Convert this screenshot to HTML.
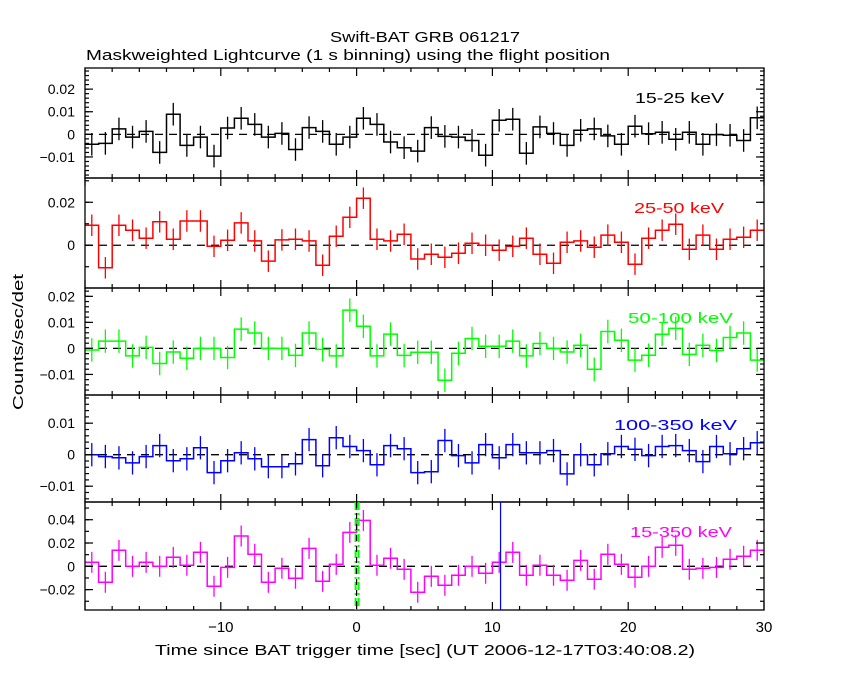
<!DOCTYPE html>
<html><head><meta charset="utf-8">
<style>
html,body{margin:0;padding:0;background:#fff;}
svg{display:block;font-family:"Liberation Sans",sans-serif;}
</style></head>
<body>
<svg id="chart" width="850" height="680" viewBox="0 0 850 680" xmlns="http://www.w3.org/2000/svg">
<text x="330" y="42" font-size="15" textLength="190" lengthAdjust="spacingAndGlyphs">Swift-BAT GRB 061217</text>
<text x="86" y="60" font-size="15" textLength="524" lengthAdjust="spacingAndGlyphs">Maskweighted Lightcurve (1 s binning) using the flight position</text>
<text transform="translate(23,342) rotate(-90)" text-anchor="middle" font-size="15" textLength="136" lengthAdjust="spacingAndGlyphs">Counts/sec/det</text>
<text x="155" y="655" font-size="15" textLength="540" lengthAdjust="spacingAndGlyphs">Time since BAT trigger time [sec] (UT 2006-12-17T03:40:08.2)</text>
</svg>
<script>
const binStarts = [];
for (let i = 0; i < 50; i++) binStarts.push(-20 + i);
const xTickLabels = [-10, 0, 10, 20, 30];
const bandLabels = ["15-25 keV", "25-50 keV", "50-100 keV", "100-350 keV", "15-350 keV"];
const bandColors = ["#000000", "#ff0000", "#00ff00", "#0000ff", "#ff00ff"];
const rate15_25 = [-0.0044,-0.004,0.0024,-0.0012,0.0013,-0.008,0.0089,-0.0049,-0.0012,-0.0096,0.0028,0.0071,0.0044,-0.0012,0.0004,-0.0067,0.003,0.0013,-0.0044,-0.0012,0.0071,0.0044,-0.0034,-0.0059,-0.0074,0.003,-0.0009,-0.0012,-0.0027,-0.0092,0.0062,0.0067,-0.0084,0.0033,0.0004,-0.0049,0.0018,0.0024,-0.0007,-0.0044,0.0036,0.0003,0.0009,-0.0022,0.0009,-0.0044,-0.0001,-0.0004,-0.0027,0.0073];
const rate25_50 = [0.0093,-0.0105,0.0093,0.007,0.0033,0.0109,0.0028,0.0113,0.0113,-0.0005,0.0023,0.0104,0.002,-0.0074,0.0025,0.0028,0.002,-0.0093,0.0042,0.013,0.0219,0.0028,0.002,0.0051,-0.0064,-0.0042,-0.0056,-0.0037,0.0009,0,-0.0023,-0.0005,0.0033,-0.0042,-0.0084,0.0014,0.002,-0.0009,0.0047,0.0014,-0.0088,0.0033,0.007,0.0098,-0.0019,0.0047,-0.0019,0.0028,0.0037,0.007];
const rate50_100 = [-0.0006,0.0028,0.0028,-0.0029,0.0004,-0.0058,-0.0014,-0.0038,0,0,-0.0035,0.0074,0.0059,0,0,-0.0027,0.0059,-0.0004,-0.0029,0.0147,0.0085,-0.0029,0.0055,-0.0027,-0.0015,-0.0015,-0.0122,-0.0019,0.0038,0.0008,0.0008,0.0028,-0.0029,0.0019,0,-0.0014,0.0012,-0.008,0.0065,0.0031,-0.0045,-0.0026,0.0054,0.0077,-0.0023,0.0012,-0.0008,0.0042,0.0059,-0.0045];
const rate100_350 = [0,-0.0006,-0.001,-0.0026,-0.0006,0.0029,-0.0019,-0.0013,0.0022,-0.0057,-0.0019,0.0006,-0.0013,-0.0038,-0.0038,-0.0029,0.0048,-0.0035,0.0054,0.0026,0.0013,-0.0032,0.0029,0.0019,-0.0057,-0.0054,0.0045,-0.0003,-0.0026,0.0032,-0.001,0.0032,0.0006,0.0006,0.0013,-0.0061,0,-0.0032,0.0003,0.0026,0.0017,-0.0003,0.0026,0.0029,0.0013,-0.0022,0.0026,0.0003,0.0019,0.0038];
const rate15_350 = [0.0034,-0.0137,0.0137,0,0.0034,0,0.0077,0.0009,0.012,-0.0171,-0.0009,0.026,0.0103,-0.0137,-0.0017,-0.0103,0.0154,-0.0129,0.0017,0.0291,0.0394,0.0009,0.0069,-0.0026,-0.0223,-0.0086,-0.0163,-0.0077,0,-0.006,0.0034,0.012,-0.0077,0.0009,-0.0077,-0.012,0.0051,-0.0111,0.0103,0.0017,-0.0094,0,0.0163,0.018,-0.0026,-0.0017,-0.0009,0.006,0.0086,0.0137];
const errors = [0.005, 0.005, 0.0045, 0.0037, 0.009];
const yTicks0 = [0.02, 0.01, 0, -0.01];
const yTicks1 = [0.02, 0];
const yTicks2 = [0.02, 0.01, 0, -0.01];
const yTicks3 = [0.01, 0, -0.01];
const yTicks4 = [0.04, 0.02, 0, -0.02];
const yTickLabels0 = ["0.02","0.01","0","\u22120.01"];
const yTickLabels1 = ["0.02","0"];
const yTickLabels2 = ["0.02","0.01","0","\u22120.01"];
const yTickLabels3 = ["0.01","0","\u22120.01"];
const yTickLabels4 = ["0.04","0.02","0","\u22120.02"];
const blueMarkerTime = 10.6;

const series = [rate15_25, rate25_50, rate50_100, rate100_350, rate15_350];
const majorTicks = [yTicks0, yTicks1, yTicks2, yTicks3, yTicks4];
const majorLabels = [yTickLabels0, yTickLabels1, yTickLabels2, yTickLabels3, yTickLabels4];
const labelRight = [724, 724, 733, 737, 732];
const labelLen = [89, 90, 105, 123, 102];
const panels = [
  {top:68,bottom:178,ymin:-0.0193,ymax:0.02934,minor:0.002},
  {top:178,bottom:288,ymin:-0.0199,ymax:0.0313,minor:0.01},
  {top:288,bottom:395,ymin:-0.0179,ymax:0.0232,minor:0.002},
  {top:395,bottom:502,ymin:-0.01502,ymax:0.01895,minor:0.002},
  {top:502,bottom:610,ymin:-0.0375,ymax:0.0552,minor:0.01}
];
const X0 = 85, X1 = 764, XMIN = -20, XMAX = 30;
const svg = document.getElementById('chart');
const NS = 'http://www.w3.org/2000/svg';
function xs(t){ return X0 + (t - XMIN) / (XMAX - XMIN) * (X1 - X0); }
function mk(tag, attrs){ const e = document.createElementNS(NS, tag); for (const k in attrs) e.setAttribute(k, attrs[k]); svg.appendChild(e); return e; }

panels.forEach((p, pi) => {
  const ys = v => p.bottom - (v - p.ymin) / (p.ymax - p.ymin) * (p.bottom - p.top);
  const col = bandColors[pi];
  const data = series[pi];
  const z = mk('line', {x1:X0, x2:X1, y1:ys(0), y2:ys(0), stroke:'#000', 'stroke-width':1.3, 'stroke-dasharray':'8,6'});
  
  
  let d = '';
  data.forEach((v, i) => {
    const xa = xs(binStarts[i]), xb = xs(binStarts[i] + 1), y = ys(v);
    d += (i === 0 ? 'M' : 'L') + xa.toFixed(1) + ',' + y.toFixed(1) + 'L' + xb.toFixed(1) + ',' + y.toFixed(1);
  });
  const path = mk('path', {d:d, fill:'none', stroke:col, 'stroke-width':1.5});
  
  
  data.forEach((v, i) => {
    const xc = xs(binStarts[i] + 0.5);
    const e = mk('line', {x1:xc, x2:xc, y1:Math.max(p.top, ys(v + errors[pi])), y2:Math.min(p.bottom, ys(v - errors[pi])), stroke:col, 'stroke-width':1.3});
    
    
  });
  const fr = mk('rect', {x:X0, y:p.top, width:X1 - X0, height:p.bottom - p.top, fill:'none', stroke:'#000', 'stroke-width':1.3});
  
  
  for (let t = XMIN; t <= XMAX; t += 2) {
    const L = (t % 10 === 0) ? 8 : 4, x = xs(t);
    mk('line', {x1:x, x2:x, y1:p.top, y2:p.top + L, stroke:'#000', 'stroke-width':1.2});
    mk('line', {x1:x, x2:x, y1:p.bottom, y2:p.bottom - L, stroke:'#000', 'stroke-width':1.2});
  }
  const start = Math.ceil(p.ymin / p.minor - 1e-6);
  for (let k = start; k * p.minor <= p.ymax + 1e-9; k++) {
    const y = ys(k * p.minor);
    mk('line', {x1:X0, x2:X0 + 4, y1:y, y2:y, stroke:'#000', 'stroke-width':1.2});
    mk('line', {x1:X1, x2:X1 - 4, y1:y, y2:y, stroke:'#000', 'stroke-width':1.2});
  }
  majorTicks[pi].forEach((v, k) => {
    const y = ys(v);
    mk('line', {x1:X0, x2:X0 + 8, y1:y, y2:y, stroke:'#000', 'stroke-width':1.2});
    mk('line', {x1:X1, x2:X1 - 8, y1:y, y2:y, stroke:'#000', 'stroke-width':1.2});
    const tl = mk('text', {x:75, y:y + 5, 'text-anchor':'end', 'font-size':14});
    tl.textContent = majorLabels[pi][k];
    
    
  });
  const bl = mk('text', {x:labelRight[pi] - labelLen[pi], y:p.top + 35, 'font-size':15, fill:col, textLength:labelLen[pi], lengthAdjust:'spacingAndGlyphs'});
  bl.textContent = bandLabels[pi];
  
  
});
xTickLabels.forEach(t => {
  const tl = mk('text', {x:xs(t), y:632, 'text-anchor':'middle', 'font-size':15});
  tl.textContent = t < 0 ? '\u2212' + Math.abs(t) : String(t);
  
  
});
const p5 = panels[4];
const g1 = mk('line', {x1:xs(0) - 1, x2:xs(0) - 1, y1:p5.top, y2:p5.bottom, stroke:'#00ff00', 'stroke-width':2, 'stroke-dasharray':'8,3,2,3'});


const g2 = mk('line', {x1:xs(0) + 2, x2:xs(0) + 2, y1:p5.top, y2:p5.bottom, stroke:'#00ff00', 'stroke-width':2, 'stroke-dasharray':'8,3,2,3'});


const bk = mk('line', {x1:xs(0), x2:xs(0), y1:p5.top, y2:p5.bottom, stroke:'#000', 'stroke-width':1.2, 'stroke-dasharray':'6,5'});


const bm = mk('line', {x1:xs(blueMarkerTime), x2:xs(blueMarkerTime), y1:p5.top, y2:p5.bottom, stroke:'#0000ff', 'stroke-width':1.2});


</script>
</body></html>
